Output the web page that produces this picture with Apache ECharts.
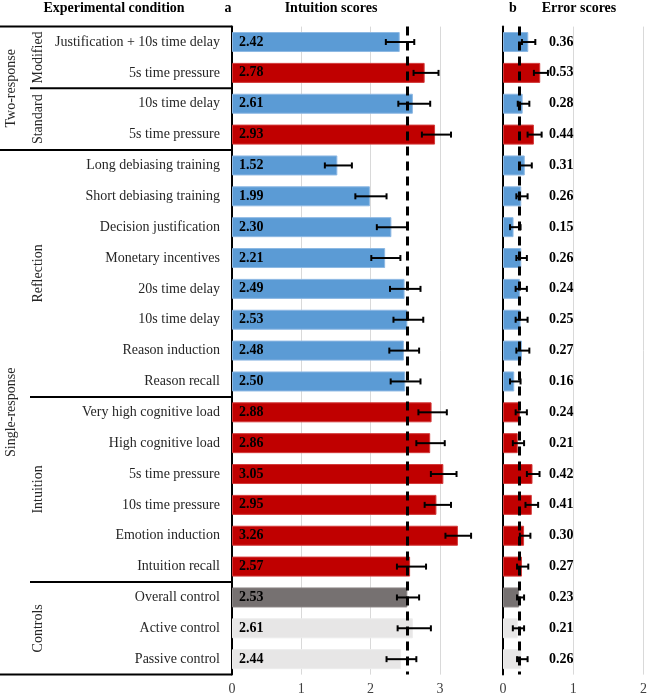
<!DOCTYPE html>
<html>
<head>
<meta charset="utf-8">
<script src="https://cdn.jsdelivr.net/npm/echarts@6/dist/echarts.min.js"></script>
<style>
html,body{margin:0;padding:0;background:#fff;}
#main{width:650px;height:697px;}
</style>
</head>
<body>
<div id="main"></div>
<script>
// ---------------- data ----------------
const categories = ['Justification + 10s time delay','5s time pressure','10s time delay','5s time pressure',
  'Long debiasing training','Short debiasing training','Decision justification','Monetary incentives',
  '20s time delay','10s time delay','Reason induction','Reason recall',
  'Very high cognitive load','High cognitive load','5s time pressure','10s time pressure','Emotion induction','Intuition recall',
  'Overall control','Active control','Passive control'];
const conditionType = ['blue','red','blue','red',
  'blue','blue','blue','blue','blue','blue','blue','blue',
  'red','red','red','red','red','red',
  'dark','light','light'];
const intuitionScores = [2.42,2.78,2.61,2.93,1.52,1.99,2.30,2.21,2.49,2.53,2.48,2.50,2.88,2.86,3.05,2.95,3.26,2.57,2.53,2.61,2.44];
const intuitionLow  = [2.22,2.62,2.40,2.74,1.34,1.78,2.09,2.01,2.28,2.33,2.27,2.29,2.69,2.66,2.87,2.78,3.08,2.38,2.38,2.39,2.23];
const intuitionHigh = [2.63,2.98,2.86,3.16,1.73,2.23,2.54,2.43,2.72,2.76,2.70,2.72,3.10,3.07,3.24,3.16,3.45,2.80,2.70,2.87,2.66];
const errorScores = [0.36,0.53,0.28,0.44,0.31,0.26,0.15,0.26,0.24,0.25,0.27,0.16,0.24,0.21,0.42,0.41,0.30,0.27,0.23,0.21,0.26];
const errorLow  = [0.27,0.44,0.21,0.35,0.23,0.19,0.10,0.19,0.18,0.18,0.19,0.10,0.18,0.14,0.34,0.32,0.24,0.20,0.20,0.14,0.20];
const errorHigh = [0.46,0.64,0.375,0.55,0.41,0.35,0.25,0.34,0.34,0.35,0.375,0.25,0.34,0.30,0.52,0.50,0.39,0.36,0.30,0.30,0.35];
const referenceIndex = 18; // Overall control -> dashed reference lines
const intuitionTicks = [0,1,2,3];
const errorTicks = [0,1,2];
const outerGroups = ['Two-response','Single-response'];
const outerSpans = [[0,3],[4,20]];
const innerGroups = ['Modified','Standard','Reflection','Intuition','Controls'];
const innerSpans = [[0,1],[2,3],[4,11],[12,17],[18,20]];
const headers = ['Experimental condition','a','Intuition scores','b','Error scores'];

// ---------------- styles ----------------
const FONT = '"Liberation Serif","Times New Roman",serif';
const colorMap = {blue:'#5B9BD5', red:'#C00000', dark:'#767171', light:'#E7E6E6'};
const borderMap = {blue:'#8DB8E3', red:'#D23A3A', dark:'#8A8585', light:'#EDECEC'};
const errorLabelX = 0.655;

const chart = echarts.init(document.getElementById('main'), null, {renderer:'canvas'});

function barData(values){
  return values.map((v,i)=>({value:v, itemStyle:{color:colorMap[conditionType[i]], borderColor:borderMap[conditionType[i]], borderWidth:1}}));
}
function errRender(params, api){
  const y = api.value(2);
  const a = api.coord([api.value(0), y]);
  const b = api.coord([api.value(1), y]);
  const h = 3;
  const st = {stroke:'#000', lineWidth:2};
  return {type:'group', children:[
    {type:'line', shape:{x1:a[0], y1:a[1], x2:b[0], y2:b[1]}, style:st},
    {type:'line', shape:{x1:a[0], y1:a[1]-h, x2:a[0], y2:a[1]+h}, style:st},
    {type:'line', shape:{x1:b[0], y1:b[1]-h, x2:b[0], y2:b[1]+h}, style:st}
  ]};
}
function labelRender(params, api){
  const p = api.coord([api.value(0), api.value(1)]);
  return {type:'text', x:p[0], y:p[1], style:{text:api.value(2).toFixed(2), fill:'#000',
    font:'bold 14px '+FONT, textAlign:'left', textVerticalAlign:'middle'}};
}
const idx = categories.map((c,i)=>i);

const option = {
  animation:false,
  backgroundColor:'#fff',
  grid:[
    {left:232, top:26.6, width:242.55, height:648},
    {left:503, top:26.6, width:144, height:648}
  ],
  xAxis:[
    {type:'value', gridIndex:0, min:intuitionTicks[0], max:3.5, interval:1,
     axisLine:{show:false}, axisTick:{show:false},
     splitLine:{show:true, showMaxLine:false, lineStyle:{color:'#d9d9d9', width:1}},
     axisLabel:{margin:8, fontFamily:FONT, fontSize:14, color:'#404040', showMaxLabel:false,
       formatter:v=> intuitionTicks.indexOf(v)>=0 ? String(v) : ''}},
    {type:'value', gridIndex:1, min:errorTicks[0], max:errorTicks[errorTicks.length-1], interval:1,
     axisLine:{show:false}, axisTick:{show:false},
     splitLine:{show:true, lineStyle:{color:'#d9d9d9', width:1}},
     axisLabel:{margin:8, fontFamily:FONT, fontSize:14, color:'#404040'}}
  ],
  yAxis:[
    {type:'category', gridIndex:0, data:categories, inverse:true,
     axisLine:{show:true, lineStyle:{color:'#000', width:2}}, axisTick:{show:false},
     axisLabel:{margin:12, fontFamily:FONT, fontSize:14, color:'#262626'}},
    {type:'category', gridIndex:1, data:categories, inverse:true,
     axisLine:{show:true, lineStyle:{color:'#000', width:2}}, axisTick:{show:false},
     axisLabel:{show:false}}
  ],
  series:[
    {type:'bar', xAxisIndex:0, yAxisIndex:0, data:barData(intuitionScores), barWidth:20,
     label:{show:true, position:'insideLeft', distance:7, fontFamily:FONT, fontSize:14, fontWeight:'bold', color:'#000',
       formatter:p=>p.value.toFixed(2)},
     markLine:{silent:true, symbol:'none', label:{show:false},
       lineStyle:{color:'#000', width:3, type:[9,6]},
       data:[{xAxis:intuitionScores[referenceIndex]}]}},
    {type:'custom', xAxisIndex:0, yAxisIndex:0, renderItem:errRender, z:5,
     encode:{x:[0,1], y:2}, data:idx.map(i=>[intuitionLow[i], intuitionHigh[i], i])},
    {type:'bar', xAxisIndex:1, yAxisIndex:1, data:barData(errorScores), barWidth:20,
     markLine:{silent:true, symbol:'none', label:{show:false},
       lineStyle:{color:'#000', width:3, type:[9,6]},
       data:[{xAxis:errorScores[referenceIndex]}]}},
    {type:'custom', xAxisIndex:1, yAxisIndex:1, renderItem:errRender, z:5,
     encode:{x:[0,1], y:2}, data:idx.map(i=>[errorLow[i], errorHigh[i], i])},
    {type:'custom', xAxisIndex:1, yAxisIndex:1, renderItem:labelRender, z:6, clip:false,
     encode:{x:0, y:1}, data:idx.map(i=>[errorLabelX, i, errorScores[i]])}
  ]
};
chart.setOption(option);

// ---------------- table frame, group labels, headers ----------------
const y0 = chart.convertToPixel({yAxisIndex:0}, 0);
const y1 = chart.convertToPixel({yAxisIndex:0}, 1);
const bw = y1 - y0;
const bound = k => y0 - bw/2 + k*bw;
const axisX = chart.convertToPixel({xAxisIndex:0}, 0);
const lineStyle = {stroke:'#000', lineWidth:2};
const graphics = [];
function hline(k, xStart){
  graphics.push({type:'line', shape:{x1:xStart, y1:bound(k), x2:axisX, y2:bound(k)}, style:lineStyle, z:10});
}
hline(0, 0);
hline(2, 30);
hline(4, 0);
hline(12, 30);
hline(18, 30);
hline(categories.length, 0);
function vlabel(text, x, span){
  const yc = (bound(span[0]) + bound(span[1]+1))/2;
  graphics.push({type:'text', x:x, y:yc, rotation:Math.PI/2,
    style:{text:text, font:'14px '+FONT, fill:'#262626', textAlign:'center', textVerticalAlign:'middle'}, z:10});
}
outerGroups.forEach((g,i)=>vlabel(g, 11, outerSpans[i]));
innerGroups.forEach((g,i)=>vlabel(g, 38, innerSpans[i]));
const headerX = [114, 228, 331, 513, 579];
headers.forEach((h,i)=>{
  graphics.push({type:'text', x:headerX[i], y:8,
    style:{text:h, font:'bold 14px '+FONT, fill:'#000', textAlign:'center', textVerticalAlign:'middle'}, z:10});
});
chart.setOption({graphic:graphics});
</script>
</body>
</html>
